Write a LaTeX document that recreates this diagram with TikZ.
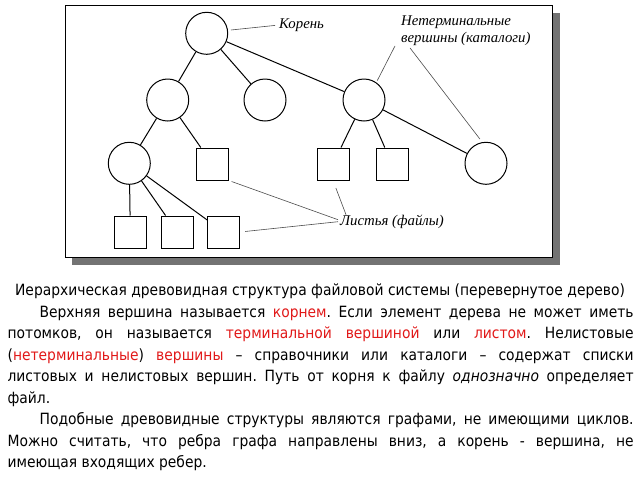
\documentclass[tikz,border=0pt]{standalone}
\usepackage{fontspec}
\setmainfont{DejaVu Sans}[FakeStretch=0.895]
\newfontfamily\figfont{Liberation Serif}
\definecolor{termred}{RGB}{225,25,25}
\definecolor{shadowgray}{RGB}{115,115,115}
\newcommand{\redword}[1]{\textcolor{termred}{#1}}
\frenchspacing

\begin{document}
\begin{tikzpicture}[x=1pt,y=-1pt,
    dir/.style={circle,draw,line width=1pt,minimum size=42pt,inner sep=0pt},
    leaf/.style={rectangle,draw,line width=1pt,minimum size=32pt,inner sep=0pt},
    figlabel/.style={font=\figfont\itshape\fontsize{14.8}{16.7}\selectfont,inner sep=0pt},
    leader/.style={draw,black!70,line width=0.6pt},
    textfont/.style={font=\fontsize{15.5}{21.5}\selectfont,inner sep=0pt}]

  \useasboundingbox (0,0) rectangle (640,480);

  % frame with shadow
  \fill[shadowgray] (552,13) rectangle (560,265);
  \fill[shadowgray] (72,257) rectangle (560,265);
  \draw[line width=0.8pt,fill=white] (65,5.5) rectangle (552,257);

  % catalogues
  \node[dir] (root) at (206.7,33.3) {};
  \node[dir] (d1)   at (167.7,100)  {};
  \node[dir] (d2)   at (265,100)    {};
  \node[dir] (d3)   at (364,100)    {};
  \node[dir] (d4)   at (129.3,163.3) {};
  \node[dir] (d5)   at (486,163.3)  {};

  % files
  \node[leaf] (f1) at (212.3,164) {};
  \node[leaf] (f2) at (333,164)   {};
  \node[leaf] (f3) at (392,164)   {};
  \node[leaf] (f4) at (130.3,232) {};
  \node[leaf] (f5) at (177,232)   {};
  \node[leaf] (f6) at (223.7,232) {};

  \begin{scope}[every edge/.style={draw,line width=1pt}]
    \path (root) edge (d1);
    \path (root) edge (d2);
    \path (root) edge (d3);
    \path (d1)   edge (d4);
    \path (d1)   edge (f1);
    \path (d3)   edge (f2);
    \path (d3)   edge (f3);
    \path (d3)   edge (d5);
    \path (d4)   edge (f4);
    \path (d4)   edge (f5);
    \path (d4)   edge (f6);
  \end{scope}

  % labels
  \node[figlabel,anchor=west] (rootlbl) at (279,25) {Корень};
  \node[figlabel,anchor=north west,align=left] (dirlbl) at (401,16)
    {Нетерминальные\\вершины (каталоги)};
  \node[figlabel,anchor=west] (leaflbl) at (340,221.7) {Листья (файлы)};

  \draw[leader,shorten <=3pt,shorten >=4pt] (root.8) -- (rootlbl.west);
  \draw[leader,shorten >=2pt] ([xshift=-6pt]dirlbl.south west) -- (d3.55);
  \draw[leader,shorten >=4pt] ([xshift=9pt,yshift=-2pt]dirlbl.south west) -- (d5.100);
  \draw[leader,shorten >=3pt] ([xshift=-2pt,yshift=2pt]leaflbl.west) -- (f1.south east);
  \draw[leader,shorten >=8pt] ([xshift=6pt]leaflbl.north west) -- (f2.south);
  \draw[leader,shorten >=5pt] ([xshift=-2pt]leaflbl.west) -- (f6.east);

  % text under the figure
  \node[textfont,anchor=base] (capt) at (320,295)
    {Иерархическая древовидная структура файловой системы (перевернутое дерево)};
  \node[textfont,anchor=base west,text width=626pt,align=justify] (body) at (7.4,317)
    {\hspace*{32pt}Верхняя вершина называется \redword{корнем}. Если элемент дерева не может иметь\linebreak
     потомков, он называется \redword{терминальной вершиной} или \redword{листом}. Нелистовые\linebreak
     (\redword{нетерминальные}) \redword{вершины} – справочники или каталоги – содержат списки\linebreak
     листовых и нелистовых вершин. Путь от корня к файлу \textit{однозначно} определяет\linebreak
     файл.\par
     \hspace*{32pt}Подобные древовидные структуры являются графами, не имеющими циклов.\linebreak
     Можно считать, что ребра графа направлены вниз, а корень - вершина, не\linebreak
     имеющая входящих ребер.};

\end{tikzpicture}
\end{document}
